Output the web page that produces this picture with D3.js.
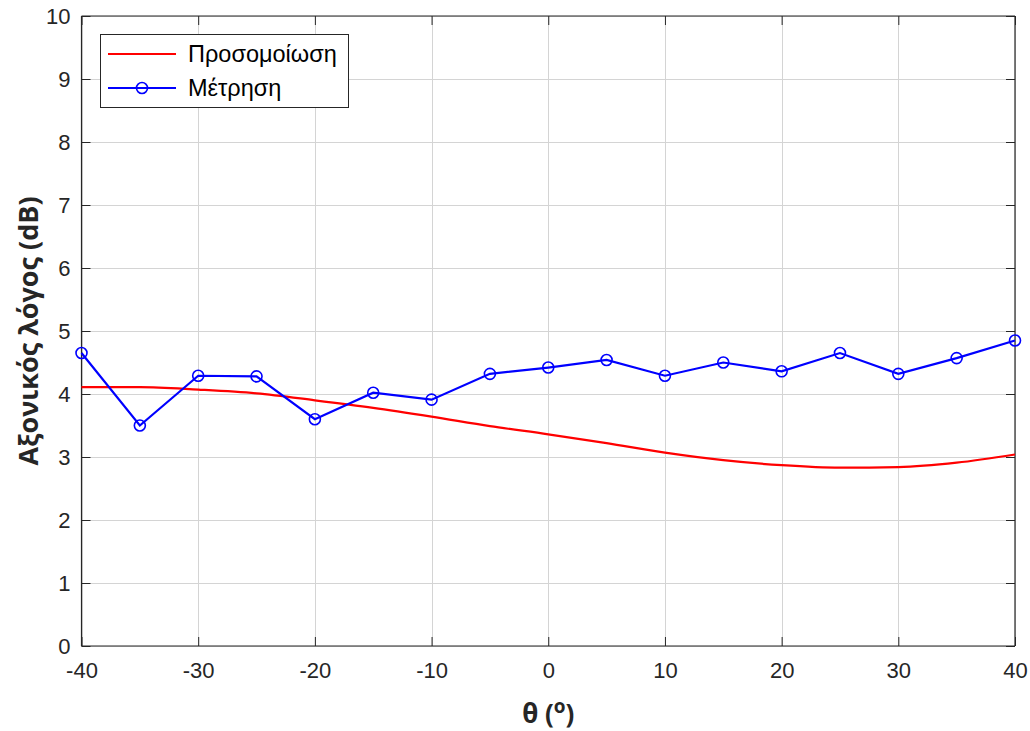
<!DOCTYPE html>
<html>
<head>
<meta charset="utf-8">
<script src="https://cdn.jsdelivr.net/npm/d3@7"></script>
<style>
  body { margin: 0; background: #fff; }
  svg { display: block; }
</style>
</head>
<body>
<svg id="chart" width="1030" height="731"></svg>
<script>
// Angle samples (degrees)
const theta = [-40, -35, -30, -25, -20, -15, -10, -5, 0, 5, 10, 15, 20, 25, 30, 35, 40];
// Simulated axial ratio (dB)
const simulated = [4.11, 4.11, 4.07, 4.01, 3.90, 3.78, 3.64, 3.49, 3.36, 3.22, 3.07, 2.95, 2.87, 2.83, 2.84, 2.91, 3.04];
// Measured axial ratio (dB)
const measured = [4.65, 3.50, 4.29, 4.28, 3.60, 4.02, 3.91, 4.32, 4.42, 4.54, 4.29, 4.50, 4.36, 4.65, 4.32, 4.57, 4.85];

const xTicks = [-40, -30, -20, -10, 0, 10, 20, 30, 40];
const yTicks = [0, 1, 2, 3, 4, 5, 6, 7, 8, 9, 10];
const seriesNames = ["Προσομοίωση", "Μέτρηση"];

const svg = d3.select("#chart");
const plotL = 81.5, plotR = 1015, plotT = 16, plotB = 646;
const axisColor = "#262626";
const font = "'Liberation Sans', Arial, sans-serif";
const titleFont = "'Open Sans', sans-serif";

const x = d3.scaleLinear().domain([-40, 40]).range([plotL, plotR]);
const y = d3.scaleLinear().domain([0, 10]).range([plotB, plotT]);

// Grid
const grid = svg.append("g").attr("stroke", "#d4d4d4").attr("stroke-width", 1);
grid.selectAll("line.gx").data(xTicks).join("line").attr("class", "gx")
  .attr("x1", d => Math.round(x(d)) + 0.5).attr("x2", d => Math.round(x(d)) + 0.5)
  .attr("y1", plotT).attr("y2", plotB);
grid.selectAll("line.gy").data(yTicks).join("line").attr("class", "gy")
  .attr("y1", d => Math.round(y(d)) + 0.5).attr("y2", d => Math.round(y(d)) + 0.5)
  .attr("x1", plotL).attr("x2", plotR);

// Axes with inward ticks on all four sides
const tickLen = 9;
const plain = d => String(d);
const bottomAxis = d3.axisBottom(x).tickValues(xTicks).tickSize(-tickLen).tickPadding(16).tickFormat(plain);
const topAxis = d3.axisTop(x).tickValues(xTicks).tickSize(-tickLen).tickFormat("");
const leftAxis = d3.axisLeft(y).tickValues(yTicks).tickSize(-tickLen).tickPadding(11).tickFormat(plain);
const rightAxis = d3.axisRight(y).tickValues(yTicks).tickSize(-tickLen).tickFormat("");

function styleAxis(g) {
  g.selectAll("path").attr("stroke", axisColor).attr("stroke-width", 1.2);
  g.selectAll("line").attr("stroke", axisColor).attr("stroke-width", 1);
  g.selectAll("text").attr("fill", axisColor).style("font-family", font).style("font-size", "22px");
}
svg.append("g").attr("transform", `translate(0,${plotB})`).call(bottomAxis).call(styleAxis)
  .call(g => g.selectAll("path").attr("d", `M${plotL},0H${plotR}`));
svg.append("g").attr("transform", `translate(0,${plotT})`).call(topAxis).call(styleAxis)
  .call(g => g.selectAll("path").attr("d", `M${plotL},0H${plotR}`));
svg.append("g").attr("transform", `translate(${plotL},0)`).call(leftAxis).call(styleAxis)
  .call(g => g.selectAll("path").attr("d", `M0,${plotB}V${plotT}`));
svg.append("g").attr("transform", `translate(${plotR},0)`).call(rightAxis).call(styleAxis)
  .call(g => g.selectAll("path").attr("d", `M0,${plotB}V${plotT}`));

// Series
const simLine = d3.line().x((d, i) => x(theta[i])).y(d => y(d)).curve(d3.curveMonotoneX);
svg.append("path").datum(simulated).attr("d", simLine)
  .attr("fill", "none").attr("stroke", "#ff0000").attr("stroke-width", 2.2);

const measLine = d3.line().x((d, i) => x(theta[i])).y(d => y(d));
svg.append("path").datum(measured).attr("d", measLine)
  .attr("fill", "none").attr("stroke", "#0000ff").attr("stroke-width", 2.2);
svg.append("g").selectAll("circle").data(measured).join("circle")
  .attr("cx", (d, i) => x(theta[i])).attr("cy", d => y(d)).attr("r", 5.5)
  .attr("fill", "none").attr("stroke", "#0000ff").attr("stroke-width", 1.6);

// Legend
const lg = svg.append("g");
lg.append("rect").attr("x", 100.5).attr("y", 34.5).attr("width", 248).attr("height", 73)
  .attr("fill", "#fff").attr("stroke", axisColor).attr("stroke-width", 1);
const rows = [54, 88];
lg.append("line").attr("x1", 108).attr("x2", 176).attr("y1", rows[0]).attr("y2", rows[0])
  .attr("stroke", "#ff0000").attr("stroke-width", 2.2);
lg.append("line").attr("x1", 108).attr("x2", 176).attr("y1", rows[1]).attr("y2", rows[1])
  .attr("stroke", "#0000ff").attr("stroke-width", 2.2);
lg.append("circle").attr("cx", 142).attr("cy", rows[1]).attr("r", 5.5)
  .attr("fill", "none").attr("stroke", "#0000ff").attr("stroke-width", 1.6);
lg.selectAll("text").data(seriesNames).join("text")
  .attr("x", 188).attr("y", (d, i) => rows[i]).attr("dy", "0.36em")
  .attr("fill", "#000").style("font-family", font).style("font-size", "23.5px")
  .text(d => d);

// Axis titles
const xt = svg.append("text").attr("x", (plotL + plotR) / 2).attr("y", 723)
  .attr("text-anchor", "middle").attr("fill", axisColor)
  .style("font-family", titleFont).style("font-weight", "bold").style("font-size", "26px");
xt.append("tspan").text("θ (");
xt.append("tspan").attr("dy", -10).style("font-size", "19px").text("o");
xt.append("tspan").attr("dy", 10).text(")");

svg.append("text").attr("transform", `translate(38,${(plotT + plotB) / 2}) rotate(-90)`)
  .attr("text-anchor", "middle").attr("fill", axisColor)
  .style("font-family", titleFont).style("font-weight", "bold").style("font-size", "27px")
  .text("Αξονικός λόγος (dB)");
</script>
</body>
</html>
